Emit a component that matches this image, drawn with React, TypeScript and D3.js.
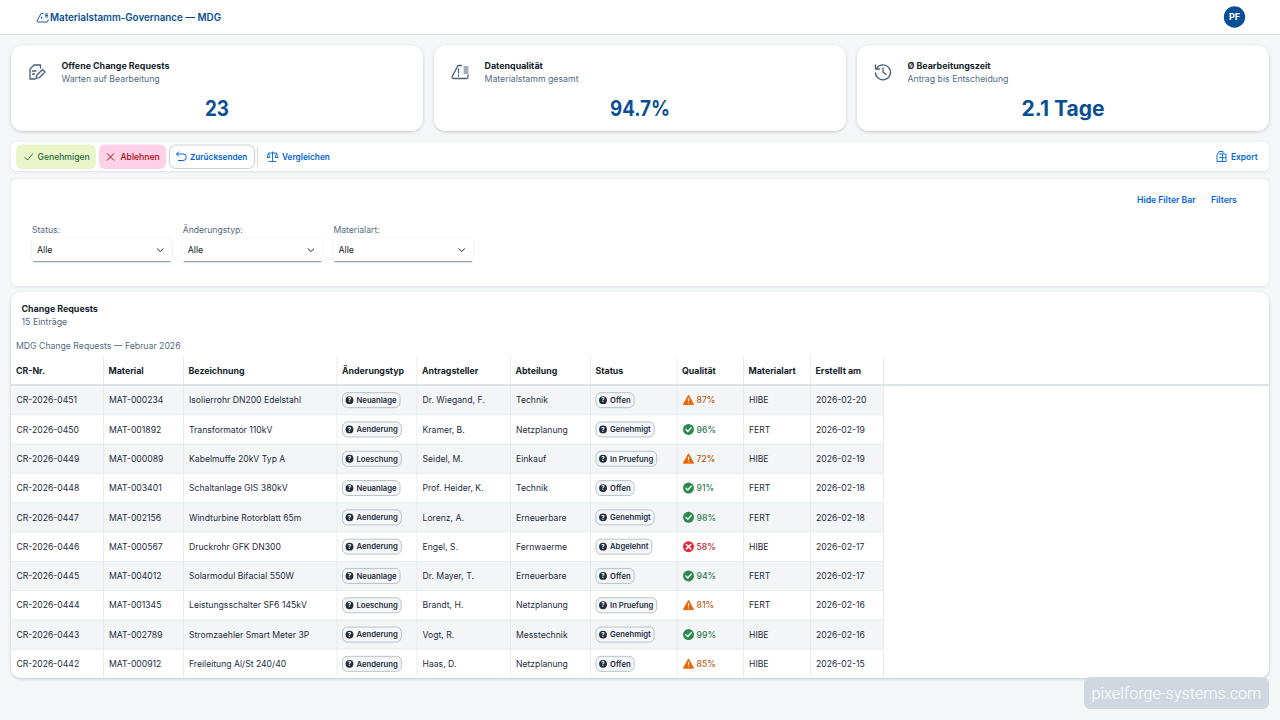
import * as d3 from "d3";

const crNumbers = ["CR-2026-0451", "CR-2026-0450", "CR-2026-0449", "CR-2026-0448", "CR-2026-0447", "CR-2026-0446", "CR-2026-0445", "CR-2026-0444", "CR-2026-0443", "CR-2026-0442"];
const materials = ["MAT-000234", "MAT-001892", "MAT-000089", "MAT-003401", "MAT-002156", "MAT-000567", "MAT-004012", "MAT-001345", "MAT-002789", "MAT-000912"];
const descriptions = ["Isolierrohr DN200 Edelstahl", "Transformator 110kV", "Kabelmuffe 20kV Typ A", "Schaltanlage GIS 380kV", "Windturbine Rotorblatt 65m", "Druckrohr GFK DN300", "Solarmodul Bifacial 550W", "Leistungsschalter SF6 145kV", "Stromzaehler Smart Meter 3P", "Freileitung Al/St 240/40"];
const changeTypes = ["Neuanlage", "Aenderung", "Loeschung", "Neuanlage", "Aenderung", "Aenderung", "Neuanlage", "Loeschung", "Aenderung", "Aenderung"];
const applicants = ["Dr. Wiegand, F.", "Kramer, B.", "Seidel, M.", "Prof. Heider, K.", "Lorenz, A.", "Engel, S.", "Dr. Mayer, T.", "Brandt, H.", "Vogt, R.", "Haas, D."];
const departments = ["Technik", "Netzplanung", "Einkauf", "Technik", "Erneuerbare", "Fernwaerme", "Erneuerbare", "Netzplanung", "Messtechnik", "Netzplanung"];
const statuses = ["Offen", "Genehmigt", "In Pruefung", "Offen", "Genehmigt", "Abgelehnt", "Offen", "In Pruefung", "Genehmigt", "Offen"];
const qualities = [87, 96, 72, 91, 98, 58, 94, 81, 99, 85];
const materialTypes = ["HIBE", "FERT", "HIBE", "FERT", "FERT", "HIBE", "FERT", "FERT", "HIBE", "HIBE"];
const createdDates = ["2026-02-20", "2026-02-19", "2026-02-19", "2026-02-18", "2026-02-18", "2026-02-17", "2026-02-17", "2026-02-16", "2026-02-16", "2026-02-15"];

const columns = ["CR-Nr.", "Material", "Bezeichnung", "Änderungstyp", "Antragsteller", "Abteilung", "Status", "Qualität", "Materialart", "Erstellt am"];
const columnWidths = [92.5, 80, 153.5, 80, 93.5, 80, 86.5, 66.5, 67, 73];

const kpiTitles = ["Offene Change Requests", "Datenqualität", "Ø Bearbeitungszeit"];
const kpiSubtitles = ["Warten auf Bearbeitung", "Materialstamm gesamt", "Antrag bis Entscheidung"];
const kpiValues = ["23", "94.7%", "2.1 Tage"];
const kpiValueWidths = [24, 60, 83];
const filterLabels = ["Status:", "Änderungstyp:", "Materialart:"];

const FONT = "Inter, 'Noto Sans', sans-serif";
const NAVY = "#0a4f95";
const LINK = "#0064d9";
const MUTED = "#556b82";
const INK = "#1d2d3e";
const LINE = "#e5e8eb";

const ctx = document.createElement("canvas").getContext("2d")!;
function textWidth(s: string, font: string) {
  ctx.font = font;
  return ctx.measureText(s).width;
}

const edges = [11, ...d3.cumsum(columnWidths).map((w) => 11 + w)];
const x = d3.scaleOrdinal<string, number>().domain(columns).range(edges);
const y = d3.scaleBand<string>().domain(crNumbers).range([385.5, 678.5]);
const kpiX = d3.scaleBand<string>().domain(kpiTitles).range([11, 1280]).align(0);
const filterX = d3.scalePoint<string>().domain(filterLabels).range([32, 333.5]);

const icon = { fill: "none", stroke: "#475e75", strokeWidth: 1.3, strokeLinejoin: "round" as const, strokeLinecap: "round" as const };

function QualityIcon({ q, cx, cy }: { q: number; cx: number; cy: number }) {
  if (q < 60) {
    return (
      <g transform={`translate(${cx},${cy})`}>
        <circle r={5.5} fill="#e5263d" />
        <path d="M-2.2,-2.2L2.2,2.2M2.2,-2.2L-2.2,2.2" stroke="#fff" strokeWidth={1.5} strokeLinecap="round" />
      </g>
    );
  }
  if (q < 90) {
    return (
      <g transform={`translate(${cx},${cy})`}>
        <path d="M0,-5L5.2,4.4L-5.2,4.4Z" fill="#e76500" stroke="#e76500" strokeWidth={0.8} strokeLinejoin="round" />
        <path d="M0,-1.9V1.2M0,2.3V3.2" stroke="#fff" strokeWidth={1.2} />
      </g>
    );
  }
  return (
    <g transform={`translate(${cx},${cy})`}>
      <circle r={5.5} fill="#2b8a4f" />
      <path d="M-2.6,0.1L-0.7,2L2.7,-1.8" fill="none" stroke="#fff" strokeWidth={1.4} strokeLinecap="round" strokeLinejoin="round" />
    </g>
  );
}

function qualityColor(q: number) {
  if (q < 60) return "#c6202f";
  if (q < 90) return "#bd5a0a";
  return "#2f7d4c";
}

function Badge({ label, left, cy }: { label: string; left: number; cy: number }) {
  const font = `600 7.7px ${FONT}`;
  const w = textWidth(label, font) + 17.5;
  return (
    <g>
      <rect x={left} y={cy - 7.5} width={w} height={15} rx={5} fill="#f5f6f7" stroke="#a9b4be" strokeWidth={0.8} />
      <circle cx={left + 7} cy={cy} r={3.9} fill="#1d2d3e" />
      <text x={left + 7} y={cy + 2.2} textAnchor="middle" fontSize={6} fontWeight={700} fill="#fff">?</text>
      <text x={left + 14} y={cy + 2.8} fontSize={7.7} fontWeight={600} fill={INK}>{label}</text>
    </g>
  );
}

function KpiIcon({ i, cx, cy }: { i: number; cx: number; cy: number }) {
  return (
    <g transform={`translate(${cx},${cy})`} {...icon}>
      {i === 0 && (
        <>
          <path d="M-2,7H-7V-3L-3,-7H3.5V-4" />
          <path d="M-4.5,-1H-1M-4.5,2H-2.5" />
          <path d="M-1,6.5L0,3L5.5,-2.5L8,0L2.5,5.5Z" />
        </>
      )}
      {i === 1 && (
        <>
          <path d="M1.5,-6.5H-2L-8,5Q-8,6.5 -6.5,6.5H6.5Q8,6.5 8,5V3" />
          <path d="M-1.5,-3V1M-1.5,3V4" />
          <path d="M4,-5H8M4,-3H8M4,-1H8M4,1H8" strokeWidth={1.1} />
        </>
      )}
      {i === 2 && (
        <>
          <path d="M-6.5,-3.5A7.5,7.5 0 1 1 -7.5,1" />
          <path d="M-7.5,-7V-3H-3.5" />
          <path d="M0,-4V0L3,2.5" />
        </>
      )}
    </g>
  );
}

export default function App() {
  const rows = crNumbers.map((cr, i) => ({ cr, i, cy: (y(cr) ?? 0) + y.bandwidth() / 2 }));
  const cells = [
    (i: number) => crNumbers[i],
    (i: number) => materials[i],
    (i: number) => descriptions[i],
    null,
    (i: number) => applicants[i],
    (i: number) => departments[i],
    null,
    null,
    (i: number) => materialTypes[i],
    (i: number) => createdDates[i],
  ];
  const tableRight = edges[edges.length - 1];

  return (
    <svg width={1280} height={720} fontFamily={FONT} style={{ position: "absolute", left: 0, top: 0, display: "block" }}>
      <defs>
        <filter id="card" x="-5%" y="-20%" width="110%" height="140%">
          <feDropShadow dx={0} dy={1} stdDeviation={1.6} floodColor="#5b738b" floodOpacity={0.36} />
        </filter>
        <filter id="soft" x="-5%" y="-20%" width="110%" height="140%">
          <feDropShadow dx={0} dy={0.6} stdDeviation={0.8} floodColor="#5b738b" floodOpacity={0.22} />
        </filter>
      </defs>
      <rect width={1280} height={720} fill="#f5f6f7" />

      {/* Shell bar */}
      <rect width={1280} height={34} fill="#fff" />
      <line x1={0} x2={1280} y1={34.5} y2={34.5} stroke="#d9dde1" />
      <g transform="translate(42.5,17.5)" fill="none" stroke={NAVY} strokeWidth={0.9} strokeLinejoin="round">
        <path d="M1,-4H-1.5L-5.5,3.5Q-5.5,4.5 -4.5,4.5H4.5Q5.5,4.5 5.5,3.5V2" />
        <path d="M-1,-1V1.5M2.5,-3.5H5.5M2.5,-2H5.5M2.5,-0.5H5.5" />
      </g>
      <text x={50} y={20.8} fontSize={9.8} fontWeight={600} fill={NAVY}>Materialstamm-Governance — MDG</text>
      <circle cx={1234.5} cy={17} r={10.7} fill={NAVY} />
      <text x={1234.5} y={20.3} textAnchor="middle" fontSize={9} fontWeight={700} fill="#fff">PF</text>

      {/* KPI cards */}
      {kpiTitles.map((t, i) => {
        const left = kpiX(t) ?? 0;
        return (
          <g key={t}>
            <rect x={left} y={45.5} width={412} height={85.5} rx={12} fill="#fff" filter="url(#card)" />
            <KpiIcon i={i} cx={left + 26} cy={72} />
            <text x={left + 50.5} y={69} fontSize={8.9} fontWeight={700} fill="#131e29">{t}</text>
            <text x={left + 50.5} y={82} fontSize={8.75} fill={MUTED}>{kpiSubtitles[i]}</text>
            <text x={left + 206} y={115.5} textAnchor="middle" fontSize={21} fontWeight={700} fill={NAVY}
              textLength={kpiValueWidths[i]} lengthAdjust="spacingAndGlyphs">{kpiValues[i]}</text>
          </g>
        );
      })}

      {/* Toolbar */}
      <rect x={11} y={142} width={1258} height={29} rx={6} fill="#fff" filter="url(#soft)" />
      <rect x={16} y={144.5} width={80} height={24.5} rx={6} fill="#ebf5cb" />
      <path d="M24.5,157L27.5,160L33,153.5" fill="none" stroke="#256f3a" strokeWidth={1} />
      <text x={37.5} y={160} fontSize={8.6} fontWeight={500} fill="#256f3a">Genehmigen</text>
      <rect x={99} y={144.5} width={67} height={24.5} rx={6} fill="#ffd0e7" />
      <path d="M107,153.5L114,160.5M114,153.5L107,160.5" stroke="#aa0808" strokeWidth={1} />
      <text x={120.5} y={160} fontSize={8.6} fontWeight={500} fill="#aa0808">Ablehnen</text>
      <rect x={169.5} y={145} width={85} height={23.5} rx={6} fill="#fff" stroke="#bcc3ca" strokeWidth={0.8} />
      <path d="M176.5,154H183A3,3 0 0 1 183,160.5H178M176.5,154L179,151.5M176.5,154L179,156.5" fill="none" stroke={LINK} strokeWidth={1} />
      <text x={190} y={160} fontSize={8.2} fontWeight={600} fill={LINK}>Zurücksenden</text>
      <line x1={257.5} x2={257.5} y1={147} y2={167} stroke="#d5dadf" />
      <g fill="none" stroke={LINK} strokeWidth={0.9}>
        <path d="M272.5,151.5V161M268.5,161.5H276.5M268.5,153H276.5" />
        <path d="M268.5,153L267,157.5H270ZM276.5,153L275,157.5H278Z" />
      </g>
      <text x={282} y={160} fontSize={8.3} fontWeight={600} fill={LINK}>Vergleichen</text>
      <g fill="none" stroke={LINK} strokeWidth={0.9}>
        <path d="M1217,161.5V155L1219,151.5H1223V153.5" />
        <path d="M1219,154H1226V161.5H1217M1219,157.7H1226M1222.5,154V161.5" />
      </g>
      <text x={1231} y={160} fontSize={8.4} fontWeight={600} fill={LINK}>Export</text>

      {/* Filter bar */}
      <rect x={11} y={179} width={1258} height={107} rx={6} fill="#fff" filter="url(#soft)" />
      <text x={1137} y={202.5} fontSize={8.6} fontWeight={600} fill={LINK}>Hide Filter Bar</text>
      <text x={1211} y={202.5} fontSize={8.6} fontWeight={600} fill={LINK}>Filters</text>
      {filterLabels.map((l) => {
        const left = filterX(l) ?? 0;
        return (
          <g key={l}>
            <text x={left} y={233} fontSize={8.6} fill={MUTED}>{l}</text>
            <rect x={left} y={238.5} width={139.5} height={23} rx={3} fill="#fff" filter="url(#soft)" />
            <line x1={left + 1} x2={left + 138.5} y1={261.6} y2={261.6} stroke="#6a7a8a" strokeWidth={0.8} />
            <text x={left + 5} y={253} fontSize={8.8} fill="#131e29">Alle</text>
            <path d={`M${left + 125},248.5l3.2,3l3.2,-3`} fill="none" stroke="#1d2d3e" strokeWidth={1} />
          </g>
        );
      })}

      {/* Table card */}
      <rect x={11} y={292} width={1258} height={386} rx={10} fill="#fff" filter="url(#card)" />
      <text x={21.5} y={311.5} fontSize={8.9} fontWeight={700} fill="#131e29">Change Requests</text>
      <text x={21.5} y={325} fontSize={8.8} fill={MUTED}>15 Einträge</text>
      <text x={16} y={348.5} fontSize={8.7} fill={MUTED}>MDG Change Requests — Februar 2026</text>

      {rows.filter((r) => r.i % 2 === 0).map(({ cr }) => (
        <rect key={cr} x={11} y={y(cr)} width={tableRight - 11} height={y.bandwidth()} fill="#f3f5f6" />
      ))}
      {rows.slice(0, -1).map(({ cr }) => (
        <line key={cr} x1={11} x2={tableRight} y1={(y(cr) ?? 0) + y.bandwidth()} y2={(y(cr) ?? 0) + y.bandwidth()} stroke={LINE} strokeWidth={0.8} />
      ))}
      {edges.slice(1).map((e) => (
        <line key={e} x1={e} x2={e} y1={356} y2={677.5} stroke={LINE} strokeWidth={0.8} />
      ))}
      <line x1={11} x2={1269} y1={385} y2={385} stroke="#d5d9dd" strokeWidth={1.6} />
      {columns.map((c) => (
        <text key={c} x={x(c) + 5} y={374} fontSize={8.8} fontWeight={700} fill="#131e29">{c}</text>
      ))}

      {rows.map(({ cr, i, cy }) => (
        <g key={cr} fontSize={8.65} fill="#1d2d3e">
          {cells.map((f, ci) =>
            f ? <text key={ci} x={x(columns[ci]) + 5.5} y={cy + 3.2}>{f(i)}</text> : null
          )}
          <Badge label={changeTypes[i]} left={x("Änderungstyp") + 5.5} cy={cy} />
          <Badge label={statuses[i]} left={x("Status") + 5.5} cy={cy} />
          <QualityIcon q={qualities[i]} cx={x("Qualität") + 11.5} cy={cy} />
          <text x={x("Qualität") + 19.5} y={cy + 3.2} fontWeight={500} fill={qualityColor(qualities[i])}>{qualities[i]}%</text>
        </g>
      ))}

      {/* Footer tag */}
      <rect x={1084} y={677} width={185} height={32} rx={6} fill="#d0d7e0" />
      <text x={1176.5} y={698.5} textAnchor="middle" fontSize={16.2} fontWeight={300} fill="#fff" fontFamily="Roboto, sans-serif">pixelforge-systems.com</text>
    </svg>
  );
}
